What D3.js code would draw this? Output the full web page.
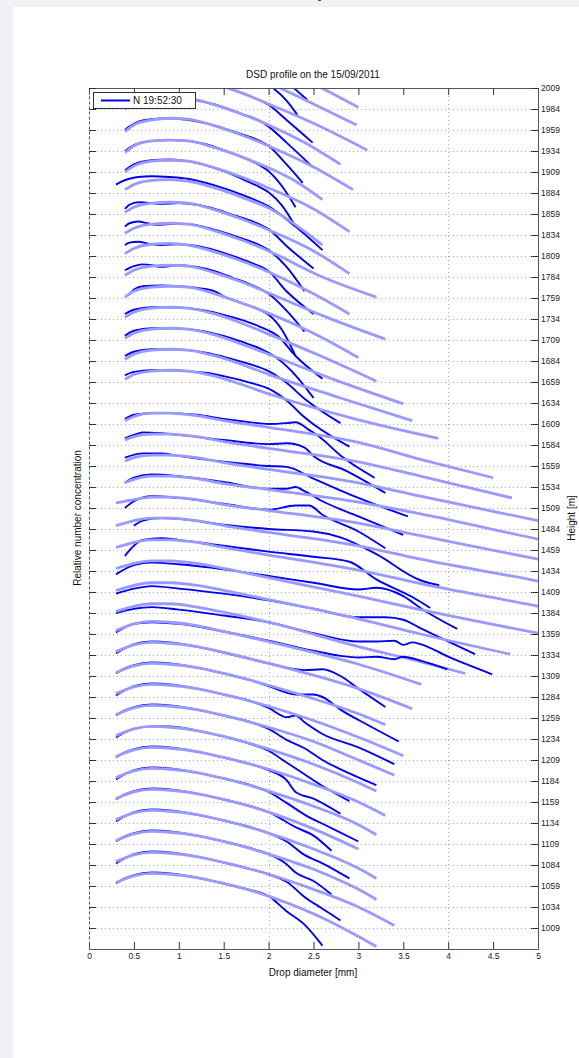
<!DOCTYPE html>
<html>
<head>
<meta charset="utf-8">
<script src="https://cdn.jsdelivr.net/npm/d3@7"></script>
<style>
  body { margin: 0; background: #f0f0f7; }
  text { font-family: "Liberation Sans", Arial, sans-serif; }
</style>
</head>
<body>
<svg id="chart" width="579" height="1058"></svg>
<script>
// tick values
const xTicks = [0, 0.5, 1, 1.5, 2, 2.5, 3, 3.5, 4, 4.5, 5];
const xGrid = [2, 4];
const heightTicks = [1009, 1034, 1059, 1084, 1109, 1134, 1159, 1184, 1209, 1234, 1259, 1284, 1309,
  1334, 1359, 1384, 1409, 1434, 1459, 1484, 1509, 1534, 1559, 1584, 1609, 1634, 1659, 1684, 1709,
  1734, 1759, 1784, 1809, 1834, 1859, 1884, 1909, 1934, 1959, 1984, 2009];

// height of each profile [m]
const profileHeights = [2059, 2034, 2009, 1984, 1959, 1934, 1909, 1884, 1859, 1834, 1809, 1784, 1759,
  1734, 1709, 1684, 1659, 1609, 1584, 1559, 1534, 1509, 1484, 1459, 1434, 1409, 1384, 1359, 1334,
  1309, 1284, 1259, 1234, 1209, 1184, 1159, 1134, 1109, 1084, 1059];

// measured DSD: [drop diameter mm, offset from profile height m]
const measured = [
  [[0.4,-1],[0.5,8],[0.6,12],[0.8,14],[1.0,14],[1.2,11],[1.4,6],[1.6,-1],[1.8,-9],[2.0,-20],[2.2,-42],[2.43,-64]],
  [[0.4,-1],[0.5,8],[0.6,12],[0.8,14],[1.0,14],[1.2,11],[1.4,6],[1.6,-1],[1.8,-9],[2.0,-21],[2.2,-40],[2.32,-57]],
  [[0.4,0],[0.5,9],[0.6,12],[0.8,14],[1.0,13],[1.2,10],[1.4,5],[1.6,-2],[1.8,-10],[2.0,-20],[2.2,-38],[2.49,-65]],
  [[0.4,0],[0.5,8],[0.7,13],[0.9,14],[1.1,12],[1.3,8],[1.5,2],[1.7,-6],[1.9,-14],[2.0,-21],[2.2,-40],[2.49,-69]],
  [[0.4,0],[0.45,4],[0.55,10],[0.7,13],[0.9,14],[1.1,12],[1.3,8],[1.5,2],[1.7,-5],[1.9,-13],[2.0,-19],[2.2,-41],[2.38,-63]],
  [[0.4,0],[0.5,7],[0.7,12],[0.9,13],[1.1,12],[1.3,8],[1.5,1],[1.7,-7],[1.9,-17],[2.0,-24],[2.15,-42],[2.3,-67]],
  [[0.4,2],[0.5,9],[0.7,14],[0.9,15],[1.1,13],[1.3,8],[1.5,1],[1.7,-8],[1.9,-18],[2.0,-24],[2.15,-40],[2.3,-65]],
  [[0.3,10],[0.35,13],[0.45,17],[0.55,19],[0.7,20],[0.9,19],[1.1,17],[1.4,9],[1.7,-2],[2.0,-16],[2.3,-40],[2.6,-68]],
  [[0.4,6],[0.45,11],[0.55,14],[0.7,13],[0.8,12],[1.0,13],[1.2,11],[1.4,6],[1.6,-1],[1.8,-8],[2.0,-18],[2.2,-38],[2.5,-65]],
  [[0.4,10],[0.45,14],[0.55,16],[0.65,14],[0.75,12],[0.9,13],[1.1,13],[1.3,9],[1.5,3],[1.7,-4],[1.9,-12],[2.0,-18],[2.2,-38],[2.4,-67]],
  [[0.4,13],[0.45,16],[0.55,17],[0.65,15],[0.8,13],[1.0,14],[1.2,12],[1.4,7],[1.6,0],[1.8,-8],[2.0,-18],[2.2,-42],[2.5,-69]],
  [[0.4,8],[0.5,13],[0.6,15],[0.7,14],[0.8,12],[1.0,14],[1.2,12],[1.4,7],[1.6,-1],[1.8,-9],[2.0,-20],[2.2,-40],[2.4,-65]],
  [[0.45,4],[0.5,10],[0.6,14],[0.8,15],[1.0,14],[1.2,12],[1.4,8],[1.5,2],[1.7,-6],[1.9,-14],[2.0,-20],[2.15,-38],[2.3,-69]],
  [[0.4,6],[0.5,11],[0.7,14],[0.9,14],[1.1,13],[1.3,10],[1.5,5],[1.7,-1],[1.9,-9],[2.1,-20],[2.3,-44],[2.6,-71]],
  [[0.4,5],[0.5,11],[0.7,14],[0.9,14],[1.1,13],[1.3,10],[1.5,5],[1.7,-2],[1.9,-10],[2.1,-22],[2.3,-42],[2.5,-69]],
  [[0.4,6],[0.5,11],[0.7,14],[0.9,14],[1.1,13],[1.3,10],[1.5,5],[1.8,-4],[2.0,-12],[2.2,-26],[2.4,-45],[2.8,-74]],
  [[0.4,8],[0.5,12],[0.7,14],[0.9,14],[1.1,13],[1.3,11],[1.5,7],[1.8,-1],[2.0,-8],[2.2,-22],[2.4,-42],[2.9,-77]],
  [[0.4,6],[0.5,11],[0.7,13],[0.9,13],[1.2,11],[1.5,6],[1.8,2],[2.0,0],[2.2,1],[2.3,2],[2.45,-7],[2.55,-14],[2.83,-40],[3.18,-64]],
  [[0.4,8],[0.5,12],[0.6,15],[0.8,14],[1.0,12],[1.5,6],[2.0,1],[2.2,2],[2.4,-3],[2.5,-13],[2.87,-31],[3.3,-57]],
  [[0.4,10],[0.6,15],[0.8,15],[1.0,12],[1.5,5],[2.0,0],[2.2,-1],[2.5,-15],[3.0,-38],[3.55,-60]],
  [[0.4,5],[0.5,11],[0.7,15],[1.0,13],[1.5,6],[2.0,-2],[2.2,-2],[2.3,0],[2.4,-5],[2.6,-17],[3.0,-35],[3.5,-57]],
  [[0.4,0],[0.5,8],[0.7,14],[1.0,12],[1.5,5],[2.0,-2],[2.3,3],[2.45,3],[2.6,-8],[3.0,-28],[3.3,-48]],
  [[0.5,4],[0.6,10],[0.8,13],[1.0,12],[1.5,5],[2.0,0],[2.5,-3],[2.8,-10],[3.2,-30],[3.69,-61],[3.9,-67]],
  [[0.4,-7],[0.5,5],[0.6,12],[0.8,14],[1.0,12],[1.5,5],[2.0,-2],[2.5,-8],[2.9,-14],[3.2,-35],[3.6,-56],[3.8,-69]],
  [[0.3,-4],[0.5,7],[0.7,10],[1.0,8],[1.5,2],[2.0,-6],[2.5,-14],[3.0,-22],[3.2,-20],[3.5,-30],[3.69,-44],[4.1,-69]],
  [[0.3,-2],[0.5,4],[0.7,7],[1.0,4],[1.5,-2],[2.0,-10],[2.5,-20],[3.0,-30],[3.3,-30],[3.5,-33],[3.69,-43],[4.3,-74]],
  [[0.3,0],[0.5,5],[0.7,7],[1.0,4],[1.5,-3],[2.0,-11],[2.5,-24],[3.0,-34],[3.2,-34],[3.4,-33],[3.5,-38],[3.6,-35],[3.69,-37],[4.0,-52],[4.49,-73]],
  [[0.3,2],[0.4,8],[0.5,12],[0.7,14],[1.0,12],[1.5,3],[2.0,-8],[2.5,-20],[2.8,-26],[3.0,-28],[3.2,-27],[3.4,-30],[3.5,-27],[3.7,-32],[3.99,-42]],
  [[0.3,2],[0.4,8],[0.5,13],[0.7,16],[0.9,15],[1.2,10],[1.5,3],[1.8,-5],[2.0,-10],[2.4,-18],[2.6,-17],[2.8,-25],[3.0,-40],[3.3,-62]],
  [[0.3,3],[0.4,9],[0.5,13],[0.7,16],[0.9,15],[1.2,10],[1.5,3],[1.8,-5],[2.0,-12],[2.3,-22],[2.5,-22],[2.6,-25],[2.8,-40],[3.1,-58],[3.45,-78]],
  [[0.3,2],[0.4,8],[0.5,13],[0.7,16],[0.9,15],[1.2,10],[1.5,3],[1.8,-5],[2.0,-13],[2.2,-24],[2.3,-22],[2.4,-30],[2.6,-44],[3.0,-60],[3.4,-80]],
  [[0.3,3],[0.4,9],[0.5,13],[0.7,16],[0.9,15],[1.2,10],[1.5,3],[1.8,-5],[2.0,-13],[2.2,-26],[2.4,-36],[2.6,-50],[2.9,-66],[3.2,-80]],
  [[0.3,2],[0.4,8],[0.5,12],[0.7,15],[0.9,15],[1.2,10],[1.5,3],[1.8,-6],[2.0,-14],[2.2,-28],[2.4,-42],[2.6,-56],[2.9,-74]],
  [[0.3,3],[0.4,9],[0.5,13],[0.7,16],[0.9,15],[1.2,10],[1.5,3],[1.8,-5],[2.0,-12],[2.2,-24],[2.3,-38],[2.5,-46],[2.8,-64]],
  [[0.3,2],[0.4,8],[0.5,13],[0.7,16],[0.9,15],[1.2,10],[1.5,3],[1.8,-5],[2.0,-13],[2.2,-26],[2.4,-40],[2.7,-56],[3.0,-72]],
  [[0.3,3],[0.4,9],[0.5,13],[0.7,16],[0.9,15],[1.2,10],[1.5,3],[1.8,-5],[2.0,-12],[2.3,-30],[2.5,-40],[2.7,-58]],
  [[0.3,2],[0.4,8],[0.5,13],[0.7,16],[0.9,15],[1.2,10],[1.5,3],[1.8,-5],[2.0,-12],[2.2,-22],[2.4,-38],[2.6,-48],[2.9,-66]],
  [[0.3,3],[0.4,9],[0.5,13],[0.7,16],[0.9,15],[1.2,10],[1.5,3],[1.8,-5],[2.0,-12],[2.2,-24],[2.3,-34],[2.5,-44],[2.7,-60]],
  [[0.3,2],[0.4,8],[0.5,13],[0.7,16],[0.9,15],[1.2,10],[1.5,3],[1.8,-5],[2.0,-11],[2.2,-20],[2.4,-38],[2.6,-52],[2.8,-66]],
  [[0.3,3],[0.4,9],[0.5,13],[0.7,16],[0.9,15],[1.2,10],[1.5,3],[1.8,-5],[2.0,-12],[2.2,-30],[2.4,-46],[2.6,-71]]
];

// fitted DSD: [drop diameter mm, offset from profile height m]
const fitted = [
  [[0.4,0],[0.5,7],[0.7,13],[0.9,14],[1.1,13],[1.4,5],[1.7,-6],[2.0,-19],[2.5,-45],[3.0,-73]],
  [[0.4,0],[0.5,7],[0.7,13],[0.9,14],[1.1,13],[1.4,5],[1.7,-6],[2.0,-19],[2.5,-44],[2.98,-69]],
  [[0.4,0],[0.5,7],[0.7,13],[0.9,14],[1.1,13],[1.4,5],[1.7,-6],[2.0,-19],[2.5,-42],[3.1,-74]],
  [[0.4,0],[0.5,7],[0.7,13],[0.9,14],[1.1,13],[1.4,5],[1.7,-6],[2.0,-19],[2.4,-40],[2.8,-66]],
  [[0.4,-2],[0.5,6],[0.7,12],[0.9,14],[1.1,13],[1.4,5],[1.7,-6],[2.0,-19],[2.5,-44],[2.94,-71]],
  [[0.4,-2],[0.5,6],[0.7,12],[0.9,13],[1.1,12],[1.4,4],[1.7,-7],[2.0,-20],[2.3,-36],[2.6,-58]],
  [[0.4,0],[0.5,7],[0.7,13],[0.9,14],[1.1,13],[1.4,5],[1.7,-6],[2.0,-19],[2.5,-44],[2.9,-71]],
  [[0.4,4],[0.5,10],[0.7,15],[0.9,16],[1.1,14],[1.4,6],[1.7,-5],[2.0,-18],[2.6,-62]],
  [[0.4,2],[0.5,8],[0.7,13],[0.9,14],[1.1,13],[1.4,5],[1.7,-6],[2.0,-19],[2.5,-44],[2.9,-71]],
  [[0.4,2],[0.5,8],[0.7,13],[0.9,14],[1.1,13],[1.4,5],[1.7,-6],[2.0,-19],[2.6,-50],[3.2,-74]],
  [[0.4,3],[0.5,9],[0.7,14],[0.9,15],[1.1,13],[1.4,5],[1.7,-6],[2.0,-19],[2.5,-45],[2.9,-69]],
  [[0.4,2],[0.5,8],[0.7,13],[0.9,14],[1.1,13],[1.4,5],[1.7,-6],[2.0,-19],[2.6,-46],[3.3,-74]],
  [[0.4,1],[0.5,8],[0.7,13],[0.9,14],[1.1,13],[1.4,5],[1.7,-6],[2.0,-18],[2.5,-42],[3.0,-71]],
  [[0.4,2],[0.5,8],[0.7,13],[0.9,14],[1.1,13],[1.4,6],[1.7,-5],[2.0,-18],[2.6,-45],[3.2,-74]],
  [[0.4,2],[0.5,8],[0.7,13],[0.9,14],[1.1,13],[1.4,6],[1.7,-5],[2.0,-17],[2.7,-46],[3.5,-76]],
  [[0.4,2],[0.5,8],[0.7,13],[0.9,14],[1.1,13],[1.4,6],[1.7,-4],[2.0,-16],[2.8,-44],[3.6,-71]],
  [[0.4,3],[0.5,9],[0.7,13],[0.9,14],[1.1,13],[1.4,7],[1.7,-3],[2.0,-14],[3.0,-45],[3.89,-67]],
  [[0.4,4],[0.5,9],[0.7,13],[0.9,13],[1.2,10],[1.5,4],[2.0,-4],[3.0,-22],[3.69,-42],[4.5,-64]],
  [[0.4,6],[0.5,10],[0.7,13],[0.9,13],[1.2,10],[1.5,4],[2.0,-4],[3.0,-20],[3.69,-37],[4.71,-63]],
  [[0.4,6],[0.5,10],[0.7,13],[0.9,13],[1.2,10],[1.5,4],[2.0,-4],[3.0,-20],[3.69,-36],[5.0,-65],[5.5,-76]],
  [[0.4,5],[0.5,9],[0.7,13],[0.9,13],[1.2,10],[1.5,4],[2.0,-3],[3.0,-18],[3.69,-32],[5.0,-62],[5.5,-73]],
  [[0.3,6],[0.4,8],[0.5,10],[0.7,13],[0.9,13],[1.2,10],[1.5,4],[2.0,-3],[3.0,-18],[3.69,-33],[5.0,-61],[5.5,-72]],
  [[0.3,4],[0.4,7],[0.5,10],[0.7,13],[0.9,13],[1.2,10],[1.5,4],[2.0,-4],[3.0,-20],[3.69,-36],[5.0,-62],[5.5,-73]],
  [[0.3,3],[0.4,6],[0.5,9],[0.7,12],[0.9,12],[1.2,9],[1.5,3],[2.0,-6],[3.0,-24],[3.69,-40],[5.0,-67],[5.5,-78]],
  [[0.3,3],[0.4,6],[0.5,9],[0.7,12],[0.9,12],[1.2,9],[1.5,3],[2.0,-8],[3.0,-30],[3.69,-46],[5.0,-74],[5.5,-84]],
  [[0.3,2],[0.4,5],[0.5,8],[0.7,11],[0.9,11],[1.2,8],[1.5,2],[2.0,-9],[3.0,-32],[3.69,-50],[4.69,-74]],
  [[0.3,2],[0.4,5],[0.5,8],[0.7,11],[0.9,11],[1.2,7],[1.5,1],[2.0,-11],[3.0,-40],[3.69,-58],[4.19,-72]],
  [[0.3,4],[0.5,12],[0.7,15],[0.9,14],[1.2,10],[1.5,3],[2.0,-9],[2.5,-22],[3.0,-36],[3.7,-60]],
  [[0.3,4],[0.5,12],[0.7,15],[0.9,14],[1.2,10],[1.5,3],[2.0,-10],[2.5,-24],[3.0,-40],[3.6,-64]],
  [[0.3,4],[0.5,12],[0.7,15],[0.9,14],[1.2,10],[1.5,3],[2.0,-11],[2.5,-27],[3.0,-45],[3.3,-58]],
  [[0.3,4],[0.5,12],[0.7,15],[0.9,14],[1.2,10],[1.5,3],[2.0,-11],[2.5,-28],[3.0,-48],[3.5,-70]],
  [[0.3,4],[0.5,12],[0.7,15],[0.9,14],[1.2,10],[1.5,3],[2.0,-11],[2.5,-28],[3.0,-50],[3.4,-68]],
  [[0.3,4],[0.5,12],[0.7,15],[0.9,14],[1.2,10],[1.5,3],[2.0,-12],[2.5,-30],[3.0,-52],[3.2,-62]],
  [[0.3,4],[0.5,12],[0.7,15],[0.9,14],[1.2,10],[1.5,3],[2.0,-11],[2.5,-29],[3.0,-50],[3.3,-66]],
  [[0.3,4],[0.5,12],[0.7,15],[0.9,14],[1.2,10],[1.5,3],[2.0,-12],[2.5,-30],[3.0,-52],[3.2,-64]],
  [[0.3,4],[0.5,12],[0.7,15],[0.9,14],[1.2,10],[1.5,3],[2.0,-12],[2.5,-32],[3.0,-56]],
  [[0.3,4],[0.5,12],[0.7,15],[0.9,14],[1.2,10],[1.5,3],[2.0,-12],[2.5,-31],[3.0,-54],[3.2,-66]],
  [[0.3,4],[0.5,12],[0.7,15],[0.9,14],[1.2,10],[1.5,3],[2.0,-12],[2.5,-30],[3.0,-54],[3.2,-66]],
  [[0.3,4],[0.5,12],[0.7,15],[0.9,14],[1.2,10],[1.5,3],[2.0,-11],[2.5,-29],[3.0,-50],[3.4,-72]],
  [[0.3,4],[0.5,12],[0.7,15],[0.9,14],[1.2,10],[1.5,3],[2.0,-12],[2.5,-33],[3.0,-60],[3.2,-72]]
];

const svg = d3.select("#chart");
svg.append("rect").attr("width", 579).attr("height", 1058).attr("fill", "#f0f0f7");
svg.append("rect").attr("x", 13).attr("y", 7).attr("width", 566).attr("height", 1051).attr("fill", "#fff");
svg.append("rect").attr("x", 318).attr("y", 0).attr("width", 3).attr("height", 1).attr("fill", "#4a5080");

const x = d3.scaleLinear().domain([0, 5]).range([89, 538]);
const y = d3.scaleLinear().domain([984, 2009]).range([949, 88]);

svg.append("clipPath").attr("id", "plot-clip")
  .append("rect").attr("x", 89).attr("y", 88).attr("width", 449).attr("height", 861);

// grid
const grid = svg.append("g").attr("stroke", "#aaa").attr("stroke-dasharray", "1,3").attr("stroke-width", 1);
grid.selectAll(".hg").data(heightTicks).enter().append("line")
  .attr("x1", 89).attr("x2", 538)
  .attr("y1", d => Math.round(y(d)) + 0.5).attr("y2", d => Math.round(y(d)) + 0.5);
grid.selectAll(".vg").data(xGrid).enter().append("line")
  .attr("y1", 88).attr("y2", 949)
  .attr("x1", d => Math.round(x(d)) + 0.5).attr("x2", d => Math.round(x(d)) + 0.5);

// profile lines
const lineGen = base => d3.line()
  .x(d => x(d[0]))
  .y(d => y(base + d[1]))
  .curve(d3.curveMonotoneX);

const plot = svg.append("g").attr("clip-path", "url(#plot-clip)");
profileHeights.forEach((h, i) => {
  plot.append("path").datum(measured[i])
    .attr("fill", "none").attr("stroke", "#0000f0").attr("stroke-width", 1.9)
    .attr("d", lineGen(h));
  plot.append("path").datum(fitted[i])
    .attr("fill", "none").attr("stroke", "#9999ff").attr("stroke-width", 2.8)
    .attr("d", lineGen(h));
});

// axes
const axisStyle = g => {
  g.selectAll("path").attr("stroke", "#555");
  g.selectAll("line").attr("stroke", "#333");
  g.selectAll("text").attr("fill", "#222").style("font-size", "8.5px")
    .style("font-family", "'Liberation Sans', Arial, sans-serif");
};
svg.append("g").attr("transform", "translate(0,949)")
  .call(d3.axisBottom(x).tickValues(xTicks).tickSize(-7).tickPadding(4).tickSizeOuter(0).tickFormat(d => String(d)))
  .call(axisStyle);
svg.append("g").attr("transform", "translate(0,88)")
  .call(d3.axisTop(x).tickValues(xTicks).tickSize(-7).tickFormat("").tickSizeOuter(0))
  .call(axisStyle);
svg.append("g").attr("transform", "translate(538,0)")
  .call(d3.axisRight(y).tickValues(heightTicks).tickSize(-7).tickPadding(3).tickSizeOuter(0).tickFormat(d => String(d)))
  .call(axisStyle);
svg.append("g").attr("transform", "translate(89,0)")
  .call(d3.axisLeft(y).tickValues(heightTicks).tickSize(-7).tickFormat("").tickSizeOuter(0))
  .call(axisStyle)
  .call(g => g.select("path").attr("stroke-dasharray", "3,2"));

// titles
svg.append("text").attr("x", 313).attr("y", 78).attr("text-anchor", "middle")
  .style("font-size", "10px").attr("fill", "#111").text("DSD profile on the 15/09/2011");
svg.append("text").attr("x", 313).attr("y", 976).attr("text-anchor", "middle")
  .style("font-size", "10px").attr("fill", "#111").text("Drop diameter [mm]");
svg.append("text").attr("transform", "translate(81,518) rotate(-90)").attr("text-anchor", "middle")
  .style("font-size", "10px").attr("fill", "#111").text("Relative number concentration");
svg.append("text").attr("transform", "translate(575,518) rotate(-90)").attr("text-anchor", "middle")
  .style("font-size", "10px").attr("fill", "#111").text("Height [m]");

// legend
const legend = svg.append("g");
legend.append("rect").attr("x", 93.5).attr("y", 92.5).attr("width", 102).attr("height", 16)
  .attr("fill", "#fff").attr("stroke", "#333");
legend.append("line").attr("x1", 101).attr("x2", 130).attr("y1", 100.5).attr("y2", 100.5)
  .attr("stroke", "#0000f0").attr("stroke-width", 2);
legend.append("text").attr("x", 133).attr("y", 104).style("font-size", "10px").attr("fill", "#111")
  .text("N 19:52:30");
</script>
</body>
</html>
